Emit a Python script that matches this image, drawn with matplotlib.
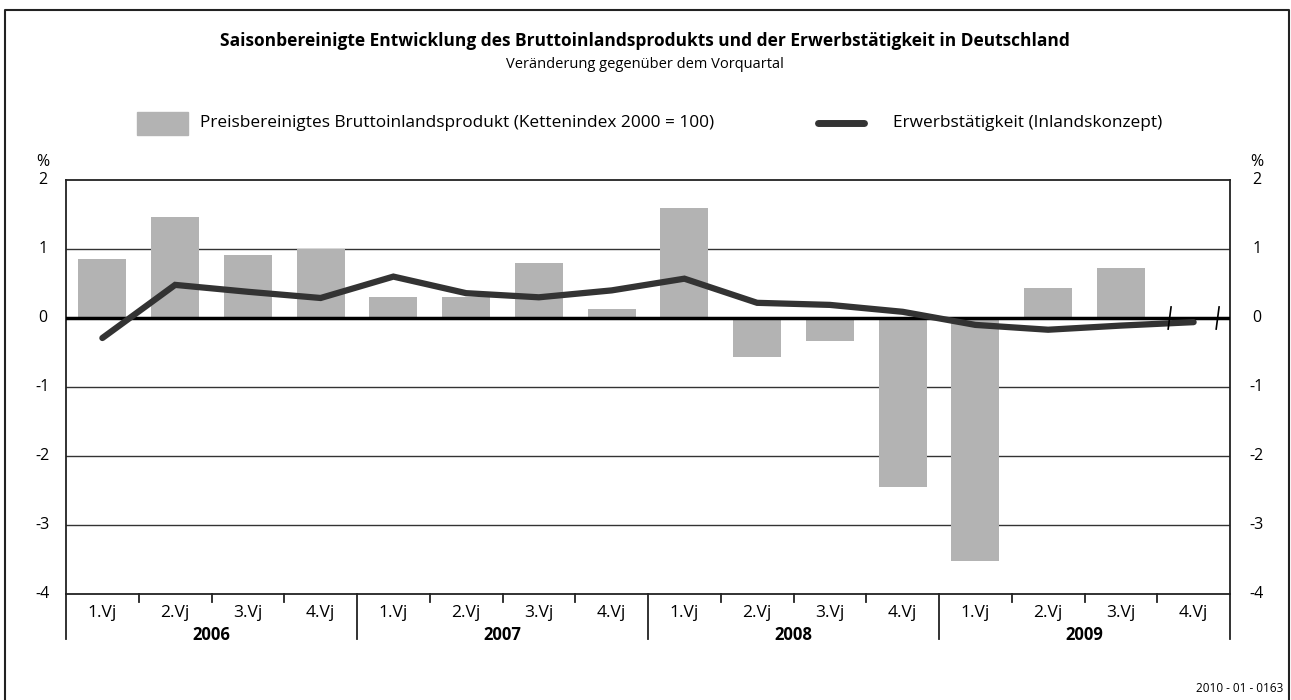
import matplotlib
matplotlib.use("Agg")
import matplotlib.pyplot as plt
import matplotlib.transforms as mtransforms
from matplotlib.patches import Rectangle
from matplotlib.lines import Line2D
import numpy as np

plt.rcParams['font.family'] = ['Open Sans', 'DejaVu Sans']

years = ['2006', '2007', '2008', '2009']
quarters = ['1.Vj', '2.Vj', '3.Vj', '4.Vj']
# BIP, Veraenderung gegenueber Vorquartal in % (4.Vj 2009: kein Wert)
bip = [0.85, 1.47, 0.91, 1.00,
       0.31, 0.31, 0.79, 0.13,
       1.59, -0.57, -0.33, -2.45,
       -3.52, 0.43, 0.72, np.nan]
# Erwerbstaetigkeit (Inlandskonzept)
erwerb = [-0.29, 0.48, 0.38, 0.29,
          0.60, 0.36, 0.30, 0.40,
          0.57, 0.22, 0.19, 0.09,
          -0.10, -0.17, -0.11, -0.06]
yticks = [2, 1, 0, -1, -2, -3, -4]

W, H = 1291, 700
fig = plt.figure(figsize=(W / 100, H / 100), dpi=100)

def fx(px):
    return px / W

def fy(py):
    return (H - py) / H

# outer frame (left, top, right)
fig.add_artist(Line2D([fx(5), fx(5), fx(1289), fx(1289)],
                      [0, fy(10), fy(10), 0], color='#222222', lw=1.5))

ax = fig.add_axes([fx(66), fy(594), fx(1230) - fx(66), fy(180) - fy(594)])
n = len(bip)
x = np.arange(n) + 0.5

ax.bar(x, bip, width=0.66, color='#b3b3b3', zorder=2)
for g in [1, -1, -2, -3]:
    ax.axhline(g, color='#333333', lw=1.0, zorder=1)
ax.axhline(0, color='black', lw=2.5, zorder=3)
ax.plot(x, erwerb, color='#333333', lw=4.5, solid_capstyle='round',
        solid_joinstyle='miter', zorder=4)

# Kennzeichen fuer fehlenden Wert
for xe in [x[-1] - 0.33, x[-1] + 0.33]:
    ax.plot([xe - 0.02, xe + 0.02], [-0.16, 0.16], color='black', lw=1.2, zorder=5)

ax.set_xlim(0, n)
ax.set_ylim(-4, 2)
ax.set_xticks([])
ax.set_yticks([])
for s in ax.spines.values():
    s.set_color('#222222')
    s.set_linewidth(1.3)

# y labels both sides
tl = mtransforms.blended_transform_factory(fig.transFigure, ax.transData)
for v in yticks:
    ax.text(fx(43), v, str(v), transform=tl, ha='center', va='center', fontsize=11.5)
    ax.text(fx(1257), v, str(v), transform=tl, ha='center', va='center', fontsize=11.5)
fig.text(fx(43), fy(162), '%', ha='center', va='center', fontsize=11.5)
fig.text(fx(1257), fy(162), '%', ha='center', va='center', fontsize=11.5)

# x axis: quarters, years, separators
tb = mtransforms.blended_transform_factory(ax.transData, fig.transFigure)
for i in range(n):
    ax.text(x[i], fy(613), quarters[i % 4], transform=tb, ha='center', va='center',
            fontsize=12.5)
for j, yr in enumerate(years):
    ax.text(4 * j + 2, fy(635), yr, transform=tb, ha='center', va='center',
            fontsize=12, fontweight='bold')
for b in range(n + 1):
    if b % 4 == 0:
        ax.plot([b, b], [fy(594), fy(639)], transform=tb, color='#222222', lw=1.3,
                clip_on=False)
    else:
        ax.plot([b, b], [fy(594), fy(602)], transform=tb, color='#222222', lw=1.3,
                clip_on=False)

# titles
fig.text(fx(645), fy(41), 'Saisonbereinigte Entwicklung des Bruttoinlandsprodukts und der Erwerbstätigkeit in Deutschland',
         ha='center', va='center', fontsize=12.5, fontweight='bold')
fig.text(fx(645), fy(64), 'Veränderung gegenüber dem Vorquartal',
         ha='center', va='center', fontsize=10.5)

# legend
fig.add_artist(Rectangle((fx(137), fy(135)), fx(188) - fx(137), fy(112) - fy(135),
                         color='#b3b3b3'))
fig.text(fx(200), fy(123), 'Preisbereinigtes Bruttoinlandsprodukt (Kettenindex 2000 = 100)',
         ha='left', va='center', fontsize=12.4)
fig.add_artist(Line2D([fx(818), fx(864)], [fy(123), fy(123)], color='#333333', lw=5,
                      solid_capstyle='round'))
fig.text(fx(893), fy(123), 'Erwerbstätigkeit (Inlandskonzept)',
         ha='left', va='center', fontsize=12.4)

fig.text(fx(1283), fy(688), '2010 - 01 - 0163', ha='right', va='center', fontsize=8.5)

fig.savefig('out.png', dpi=100)
